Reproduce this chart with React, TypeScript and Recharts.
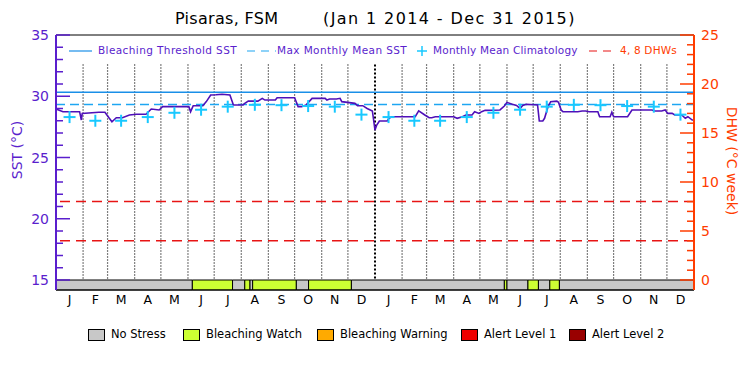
import React from "react";
import {
  ComposedChart,
  Line,
  Scatter,
  XAxis,
  YAxis,
  ReferenceLine,
  ReferenceArea,
} from "recharts";

document.body.style.margin = "0";

const monthLetters = ["J", "F", "M", "A", "M", "J", "J", "A", "S", "O", "N", "D"];
const monthLengths = [31, 28, 31, 30, 31, 30, 31, 31, 30, 31, 30, 31];
const years = ["2014", "2015"];

// monthly mean climatology (same for both years)
const climatology = [28.3, 28.0, 28.0, 28.3, 28.65, 28.9, 29.15, 29.3, 29.27, 29.2, 29.15, 28.5];
const mmm = 29.33;
const threshold = 30.33;
const dhwLevels = [4, 8];

// day index from Jan 1 2014, SST in degC
const sstDays = [
  0, 8, 27, 29, 30, 49, 56, 61, 64, 69, 76, 84, 92, 103, 109, 118, 122, 152, 154, 157,
  168, 172, 177, 183, 190, 199, 203, 214, 216, 220, 231, 236, 239, 251, 253, 273, 277, 281, 286, 293,
  308, 310, 313, 321, 325, 327, 342, 345, 351, 356, 362, 365, 367, 370, 379, 381, 384, 411, 415, 422,
  427, 430, 434, 455, 459, 465, 469, 476, 479, 484, 487, 491, 508, 513, 516, 522, 527, 531, 534, 538,
  548, 551, 553, 557, 559, 563, 566, 573, 575, 578, 580, 597, 602, 606, 610, 620, 622, 634, 636, 638,
  654, 659, 682, 685, 693, 697, 700, 705, 708, 716, 720, 723, 728, 730,
];
const sstValues = [
  28.96, 28.74, 28.74, 28.06, 28.6, 28.69, 28.69, 28.2, 27.92, 28.25, 28.25, 28.47, 28.53, 28.53, 28.96, 28.88, 29.15, 29.15, 28.74, 29.23,
  29.23, 29.56, 30.1, 30.12, 30.16, 30.1, 29.29, 29.29, 29.42, 29.6, 29.6, 29.83, 29.69, 29.69, 29.88, 29.88, 29.15, 29.15, 29.29, 29.83,
  29.83, 29.69, 29.77, 29.77, 29.83, 29.56, 29.42, 29.23, 29.23, 29.0, 28.8, 27.24, 27.65, 27.98, 27.98, 28.2, 28.33, 28.33, 28.8, 28.47,
  28.25, 28.25, 28.33, 28.33, 28.2, 28.33, 28.47, 28.47, 28.74, 28.6, 28.74, 28.85, 28.88, 29.2, 29.5, 29.34, 29.25, 29.0, 29.25, 29.34,
  29.3, 29.29, 27.98, 27.98, 28.2, 29.15, 29.56, 29.6, 29.5, 28.88, 28.74, 28.74, 28.8, 28.8, 28.74, 28.74, 28.33, 28.33, 28.7, 28.33,
  28.33, 28.88, 28.88, 28.8, 28.8, 28.88, 28.6, 28.6, 28.47, 28.47, 28.2, 28.33, 28.06, 28.06,
];

// bleaching status periods: start day and level index
const statusStart = [0, 156, 202, 216, 222, 225, 275, 289, 338, 513, 516, 540, 552, 565, 576];
const statusLevel = [0, 1, 0, 1, 0, 1, 0, 1, 0, 1, 0, 1, 0, 1, 0];
const statusNames = ["No Stress", "Bleaching Watch", "Bleaching Warning", "Alert Level 1", "Alert Level 2"];
const statusColors = ["#c8c8c8", "#ccff33", "#ffaa00", "#ee0000", "#990000"];

// every integer gets a tick; multiples of 5 are labelled
const sstTicks = [15, 16, 17, 18, 19, 20, 21, 22, 23, 24, 25, 26, 27, 28, 29, 30, 31, 32, 33, 34, 35];
const dhwTicks = [0, 1, 2, 3, 4, 5, 6, 7, 8, 9, 10, 11, 12, 13, 14, 15, 16, 17, 18, 19, 20, 21, 22, 23, 24, 25];

const TOTAL_DAYS = 730;
const SST_DOMAIN = [14.1837, 35];
const DHW_DOMAIN = [-1.0204, 25];

const PURPLE = "#5a1ecd";
const LINE_PURPLE = "#4f10b8";
const ORANGE = "#ff3c00";
const BLUE = "#1a8fe8";
const DASH_BLUE = "#1ea6f2";
const CYAN = "#18c8ff";
const RED = "#e81414";
const FONT = "'DejaVu Sans', sans-serif";

// month starts and centres, computed from calendar lengths
const monthStarts: number[] = [];
const monthMids: number[] = [];
let acc = 0;
years.forEach(() => {
  monthLengths.forEach((len) => {
    monthStarts.push(acc);
    monthMids.push(acc + len / 2);
    acc += len;
  });
});
const yearMids = [182.5, 547.5];

const sstData = sstDays.map((day, i) => ({ day, sst: sstValues[i] }));
const climData = monthMids.map((day, i) => ({ day, clim: climatology[i % 12] }));

const PlusShape = (props: any) => {
  const { cx, cy } = props;
  return (
    <g stroke={CYAN} strokeWidth={2}>
      <line x1={cx - 6} y1={cy} x2={cx + 6} y2={cy} />
      <line x1={cx} y1={cy - 6} x2={cx} y2={cy + 6} />
    </g>
  );
};

const GAP = 7;

// inward tick mark plus label; x is the label anchor, GAP px off the axis line
const makeTick = (side: "left" | "right", color: string) => (props: any) => {
  const { x, y, payload } = props;
  const major = payload.value % 5 === 0;
  const len = major ? 14 : 7;
  const axisX = side === "left" ? x + GAP : x - GAP;
  const inner = side === "left" ? axisX + len : axisX - len;
  return (
    <g>
      <line x1={axisX} y1={y} x2={inner} y2={y} stroke={color} strokeWidth={1.5} />
      {major && (
        <text
          x={x}
          y={y}
          dy="0.36em"
          textAnchor={side === "left" ? "end" : "start"}
          fill={color}
          fontSize={14}
          fontFamily={FONT}
        >
          {payload.value}
        </text>
      )}
    </g>
  );
};

const abs = (left: number, top: number, extra: React.CSSProperties = {}): React.CSSProperties => ({
  position: "absolute",
  left,
  top,
  whiteSpace: "pre",
  fontFamily: FONT,
  lineHeight: 1,
  ...extra,
});

export default function App() {
  return (
    <div style={{ position: "relative", width: 750, height: 375, background: "#fff", overflow: "hidden" }}>
      <ComposedChart width={750} height={375} margin={{ top: 35, right: 10, bottom: 47, left: 10 }}>
        <XAxis
          xAxisId="month"
          type="number"
          dataKey="day"
          domain={[0, TOTAL_DAYS]}
          ticks={monthMids}
          interval={0}
          tickFormatter={(v: number) => monthLetters[monthMids.indexOf(v) % 12]}
          height={18}
          tickSize={0}
          tickMargin={5}
          tickLine={false}
          axisLine={{ stroke: "#000" }}
          tick={{ fill: "#000", fontSize: 12.5, fontFamily: FONT }}
        />
        <XAxis
          xAxisId="year"
          type="number"
          dataKey="day"
          domain={[0, TOTAL_DAYS]}
          ticks={yearMids}
          interval={0}
          tickFormatter={(v: number) => years[yearMids.indexOf(v)]}
          height={20}
          tickSize={0}
          tickMargin={2}
          tickLine={false}
          axisLine={false}
          tick={{ fill: "#000", fontSize: 12.5, fontFamily: FONT }}
        />
        <YAxis
          yAxisId="sst"
          orientation="left"
          type="number"
          width={46}
          domain={SST_DOMAIN}
          ticks={sstTicks}
          interval={0}
          tickSize={0}
          tickMargin={GAP}
          axisLine={{ stroke: PURPLE, strokeWidth: 2 }}
          tickLine={false}
          tick={makeTick("left", PURPLE)}
          allowDataOverflow
        />
        <YAxis
          yAxisId="dhw"
          orientation="right"
          type="number"
          width={46}
          domain={DHW_DOMAIN}
          ticks={dhwTicks}
          interval={0}
          tickSize={0}
          tickMargin={GAP}
          axisLine={{ stroke: ORANGE, strokeWidth: 2 }}
          tickLine={false}
          tick={makeTick("right", ORANGE)}
          allowDataOverflow
        />

        {monthStarts.slice(1).map((d) => (
          <ReferenceLine
            key={"m" + d}
            xAxisId="month"
            yAxisId="sst"
            segment={[
              { x: d, y: 32.6 },
              { x: d, y: 15 },
            ]}
            stroke="#000"
            strokeWidth={d === 365 ? 2 : 1.2}
            strokeDasharray={d === 365 ? "2 2" : "1 2"}
          />
        ))}

        {dhwLevels.map((v) => (
          <ReferenceLine
            key={"dhw" + v}
            xAxisId="month"
            yAxisId="dhw"
            y={v}
            stroke={RED}
            strokeWidth={1.5}
            strokeDasharray="10 6"
          />
        ))}

        <ReferenceLine xAxisId="month" yAxisId="sst" y={threshold} stroke={BLUE} strokeWidth={1.5} />
        <ReferenceLine
          xAxisId="month"
          yAxisId="sst"
          y={mmm}
          stroke={DASH_BLUE}
          strokeWidth={1.5}
          strokeDasharray="9 5"
        />
        <ReferenceLine xAxisId="month" yAxisId="sst" y={35} stroke="#000" strokeWidth={1} />

        {statusStart.map((start, i) => (
          <ReferenceArea
            key={"s" + start}
            xAxisId="month"
            yAxisId="sst"
            x1={start}
            x2={i + 1 < statusStart.length ? statusStart[i + 1] : TOTAL_DAYS}
            y1={SST_DOMAIN[0]}
            y2={15}
            fill={statusColors[statusLevel[i]]}
            fillOpacity={1}
            stroke="#000"
            strokeWidth={1}
            ifOverflow="visible"
          />
        ))}

        <Scatter
          xAxisId="month"
          yAxisId="sst"
          data={climData}
          dataKey="clim"
          shape={<PlusShape />}
          isAnimationActive={false}
        />
        <Line
          xAxisId="month"
          yAxisId="sst"
          data={sstData}
          dataKey="sst"
          type="linear"
          stroke={LINE_PURPLE}
          strokeWidth={1.6}
          dot={false}
          isAnimationActive={false}
        />
      </ComposedChart>

      {/* title */}
      <div style={abs(175, 11, { fontSize: 16, color: "#000", letterSpacing: 0.3 })}>Pisaras, FSM</div>
      <div style={abs(323, 11, { fontSize: 16, color: "#000", letterSpacing: 1.4 })}>
        (Jan 1 2014 - Dec 31 2015)
      </div>

      {/* axis titles */}
      <div
        style={abs(17, 150, {
          fontSize: 14,
          color: PURPLE,
          transform: "translate(-50%, -50%) rotate(-90deg)",
        })}
      >
        SST (°C)
      </div>
      <div
        style={abs(732, 161, {
          fontSize: 14,
          color: ORANGE,
          transform: "translate(-50%, -50%) rotate(90deg)",
        })}
      >
        DHW (°C week)
      </div>

      {/* top legend */}
      <svg style={{ position: "absolute", left: 0, top: 0 }} width={750} height={70}>
        <line x1={69} y1={51} x2={92} y2={51} stroke={BLUE} strokeWidth={1.2} />
        <line x1={247} y1={51} x2={276} y2={51} stroke={DASH_BLUE} strokeWidth={1.2} strokeDasharray="8 6" />
        <line x1={417} y1={51} x2={427} y2={51} stroke={CYAN} strokeWidth={1.5} />
        <line x1={422} y1={46} x2={422} y2={56} stroke={CYAN} strokeWidth={1.5} />
        <line x1={589} y1={51} x2={614} y2={51} stroke={RED} strokeWidth={1.2} strokeDasharray="8 6" />
      </svg>
      <div style={abs(98, 45, { fontSize: 10.5, color: PURPLE, letterSpacing: 0.4 })}>Bleaching Threshold SST</div>
      <div style={abs(277, 45, { fontSize: 10.5, color: PURPLE, letterSpacing: 0.4 })}>Max Monthly Mean SST</div>
      <div style={abs(433, 45, { fontSize: 10.5, color: PURPLE, letterSpacing: 0.2 })}>Monthly Mean Climatology</div>
      <div style={abs(620, 45, { fontSize: 10.5, color: ORANGE, letterSpacing: 0.2 })}>4, 8 DHWs</div>

      {/* status legend */}
      {statusNames.map((name, i) => {
        const lefts = [88, 183, 317, 461, 569];
        return (
          <div key={name} style={abs(lefts[i], 329, { display: "flex", alignItems: "center", fontSize: 11.5 })}>
            <span
              style={{
                display: "inline-block",
                width: 15,
                height: 10,
                background: statusColors[i],
                border: "1px solid #000",
                marginRight: 6,
              }}
            />
            <span style={{ color: "#000" }}>{name}</span>
          </div>
        );
      })}
    </div>
  );
}
